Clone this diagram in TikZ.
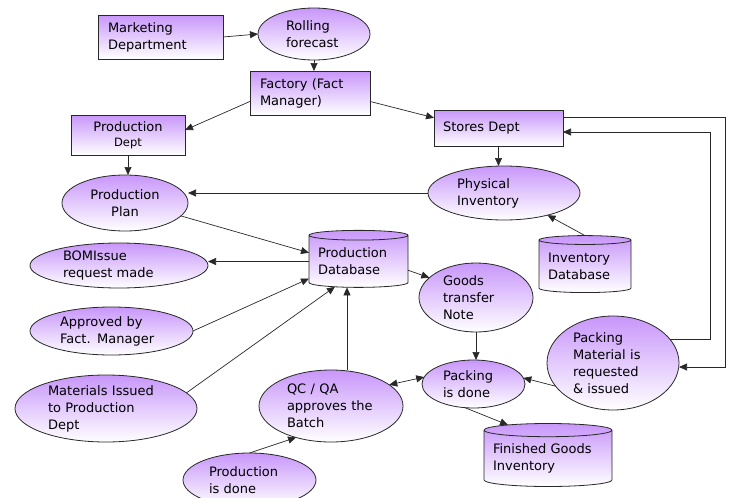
\documentclass[tikz,border=0pt]{standalone}
\usepackage{fontspec}
\setmainfont{DejaVu Sans}
\usetikzlibrary{shapes.geometric,arrows.meta,calc}
\definecolor{purp}{RGB}{200,150,250}
\definecolor{lncol}{RGB}{40,40,40}
\begin{document}
\begin{tikzpicture}[x=1pt,y=-1pt,
 every node/.style={font=\fontsize{13}{17}\selectfont, text=black},
 sh/.style={draw=lncol, line width=0.8pt, top color=purp, bottom color=white, inner sep=0pt, outer sep=0pt},
 boxs/.style={sh, rectangle, align=left},
 ell/.style={sh, ellipse, align=left},
 cyl/.style={sh, cylinder, shape border rotate=90, aspect=0.12, align=left},
 arr/.style={draw=lncol, line width=0.7pt, -{Triangle[length=8pt,width=7pt]}},
]
\clip (0,0) rectangle (731,498);
\useasboundingbox (0,0) rectangle (731,498);

% rectangles
\node[boxs, minimum width=125, minimum height=44, text width=105, inner xsep=10pt] (mkt) at (160.5,37) {Marketing\\Department};
\node[boxs, minimum width=120, minimum height=44, text width=100, inner xsep=10pt] (fact) at (310,93) {Factory (Fact\\Manager)};
\node[boxs, align=center, minimum width=114, minimum height=40] (pdept) at (128,135) {Production\\[-2pt]{\fontsize{11.5}{13}\selectfont Dept}};
\node[boxs, minimum width=129, minimum height=36, text width=111, inner xsep=9pt] (stores) at (498.5,128) {Stores Dept};

% ellipses
\node[ell, minimum width=112, minimum height=52, text width=56] (roll) at (314,34) {Rolling\\forecast};
\node[ell, minimum width=152, minimum height=54, text width=94] (phys) at (504,193) {Physical\\Inventory};
\node[ell, align=center, minimum width=126, minimum height=56] (pplan) at (125,203) {Production\\Plan};
\node[ell, minimum width=178, minimum height=45, text width=112] (bom) at (119,265.5) {BOMIssue\\request made};
\node[ell, minimum width=163, minimum height=48, text width=103] (appr) at (111.5,331) {Approved by\\Fact. Manager};
\node[ell, minimum width=182, minimum height=67, text width=116] (mat) at (106,408.5) {Materials Issued\\to Production\\Dept};
\node[ell, minimum width=144, minimum height=72, text width=88] (qc) at (331,406) {QC / QA\\approves the\\Batch};
\node[ell, minimum width=133, minimum height=54, text width=81] (pdone) at (249.5,480) {Production\\is done};
\node[ell, minimum width=114, minimum height=69, text width=66] (gtn) at (476,297.5) {Goods\\transfer\\Note};
\node[ell, minimum width=103, minimum height=48, text width=61] (pack) at (473.5,384) {Packing\\is done};
\node[ell, minimum width=132, minimum height=94, text width=80] (pmat) at (613,363) {Packing\\Material is\\requested\\\& issued};

% cylinders
\node[cyl, minimum width=99, minimum height=57, text width=81] (pdb) at (358.5,261.5) {Production\\Database};
\node[cyl, minimum width=92, minimum height=57, text width=74] (invdb) at (585,266.5) {Inventory\\Database};
\node[cyl, minimum width=128, minimum height=63, text width=110] (fgi) at (548,458.5) {Finished Goods\\Inventory};

% connectors
\draw[arr] (mkt.east) -- (roll.west);
\draw[arr] (roll.south) -- (roll.south |- fact.north);
\draw[arr] (fact.188) -- (pdept.5);
\draw[arr] (fact.352) -- (stores.171);
\draw[arr] (stores.south) -- (stores.south |- phys.north);
\coordinate (oc) at (725,367);
\draw[arr] (stores.9) -| (oc) -- (pmat.east |- oc);
\coordinate (ic) at (710,132);
\draw[arr] (pmat.22) -| (ic) -- (stores.east |- ic);
\draw[arr] (invdb.north) -- (phys.-27);
\draw[arr] (phys.west) -- (phys.west -| pplan.east);
\draw[arr] (pdept.south) -- (pdept.south |- pplan.north);
\draw[arr] (pplan.-13) -- (pdb.170);
\draw[arr] (pdb.west) -- (pdb.west -| bom.east);
\draw[arr] (appr.east) -- (pdb.199);
\draw[arr] (mat.11) -- (pdb.227);
\coordinate (qx) at (347,0);
\draw[arr] (qc.north -| qx) -- (pdb.south -| qx);
\draw[arr] (pdone.north) -- (qc.222);
\draw[arr] (pdb.-10) -- (gtn.157);
\draw[arr] (gtn.south) -- (gtn.south |- pack.north);
\draw[arr, {Triangle[length=8pt,width=7pt]}-{Triangle[length=8pt,width=7pt]}] (pack.172) -- (qc.20);
\draw[arr] (pmat.202) -- (pack.7);
\draw[arr] (pack.250) -- (fgi.140);
\end{tikzpicture}
\end{document}
